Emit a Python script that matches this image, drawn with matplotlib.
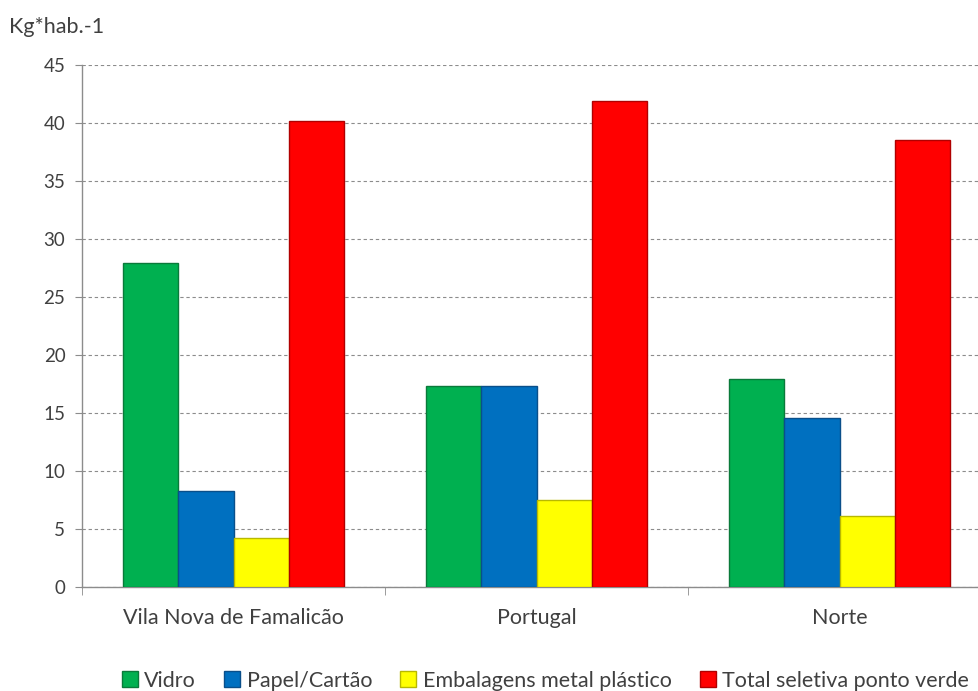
import numpy as np
import matplotlib
matplotlib.use("Agg")
from matplotlib import pyplot as plt
from matplotlib.patches import Patch

plt.rcParams['font.family'] = ['Lato', 'DejaVu Sans']

# data
regions = ["Vila Nova de Famalicão", "Portugal", "Norte"]
series_names = ["Vidro", "Papel/Cartão", "Embalagens metal plástico", "Total seletiva ponto verde"]
vidro = [27.9, 17.3, 17.9]
papel = [8.3, 17.3, 14.6]
embalagens = [4.2, 7.5, 6.1]
total = [40.2, 41.9, 38.5]
yticks = [0, 5, 10, 15, 20, 25, 30, 35, 40, 45]

colors = ["#00B050", "#0070C0", "#FFFF00", "#FF0000"]
edges = ["#0A7A3A", "#0A4F8A", "#B8B800", "#B00000"]

fig = plt.figure(figsize=(9.79, 6.91), dpi=100)
ax = fig.add_axes([0.0838, 0.1505, 0.9285, 0.7554])

x = np.arange(len(regions))
w = 0.183
all_series = [vidro, papel, embalagens, total]
for i, vals in enumerate(all_series):
    ax.bar(x + (i - 1.5) * w, vals, width=w, color=colors[i],
           edgecolor=edges[i], linewidth=1.0, zorder=3)

ax.set_xlim(-0.5, len(regions) - 0.5)
ax.set_ylim(0, 45)
ax.set_yticks(yticks)
ax.set_yticklabels([str(t) for t in yticks], fontsize=13.5, color="#404040")
ax.set_xticks(x)
ax.set_xticklabels(regions, fontsize=15.5, color="#404040")
ax.tick_params(axis="x", length=0, pad=15)
ax.tick_params(axis="y", length=5, color="#8c8c8c", pad=7)
# category boundary ticks
ax.set_xticks(np.arange(-0.5, len(regions), 1.0), minor=True)
ax.tick_params(axis="x", which="minor", length=6, color="#8c8c8c")

ax.yaxis.grid(True, linestyle=(0, (3, 2.5)), color="#8c8c8c", linewidth=0.8, zorder=0)
for s in ["top", "right"]:
    ax.spines[s].set_visible(False)
for s in ["left", "bottom"]:
    ax.spines[s].set_color("#8c8c8c")
    ax.spines[s].set_linewidth(1.0)

fig.text(0.009, 0.961, "Kg*hab.-1", fontsize=15.5, color="#404040", ha="left", va="center")

handles = [Patch(facecolor=colors[i], edgecolor=edges[i]) for i in range(4)]
fig.legend(handles, series_names, loc="center", bbox_to_anchor=(0.557, 0.015), ncol=4,
           frameon=False, fontsize=15.5, handlelength=0.75, handleheight=0.75,
           handletextpad=0.3, columnspacing=1.3, labelcolor="#404040",
           borderpad=0, borderaxespad=0)

fig.savefig("out.png", dpi=100)
